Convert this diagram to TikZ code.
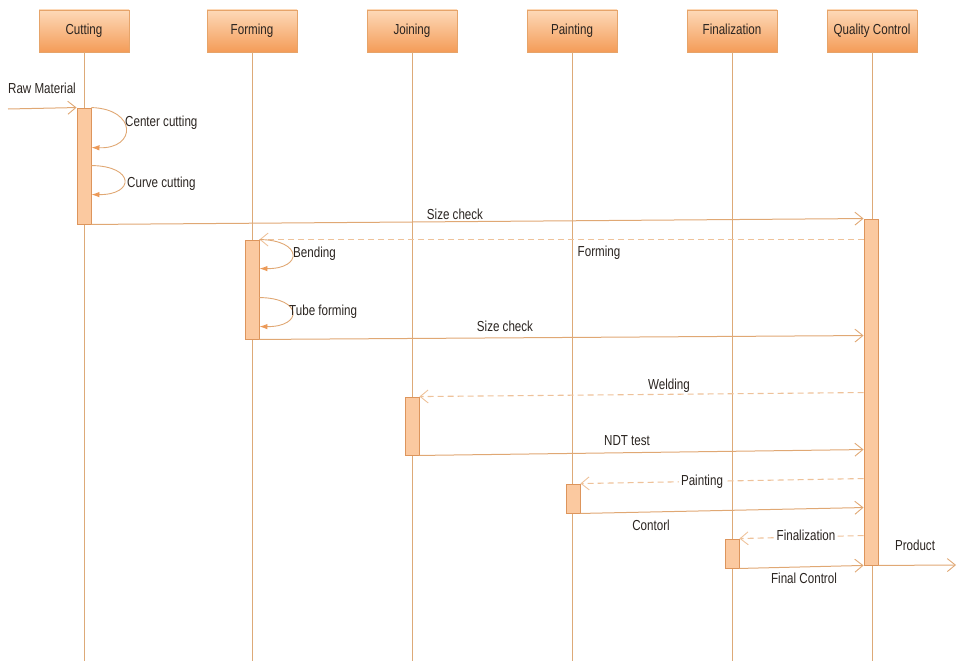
\documentclass[tikz,border=0pt]{standalone}
\usepackage{fontspec}
\setmainfont[FakeStretch=0.8]{Liberation Sans}
\usetikzlibrary{arrows.meta}
\definecolor{hdTop}{HTML}{FDD9B8}
\definecolor{hdBot}{HTML}{F49C58}
\definecolor{hdLine}{HTML}{E6A46A}
\definecolor{lifeC}{HTML}{DDAA78}
\definecolor{actFill}{HTML}{FBC9A0}
\definecolor{actLine}{HTML}{DD955C}
\definecolor{msgC}{HTML}{E0A874}
\definecolor{retC}{HTML}{EEC29A}
\definecolor{selfTip}{HTML}{EC9A58}
\definecolor{txtC}{HTML}{2A2420}
\tikzset{
  header/.style={draw=hdLine, top color=hdTop, bottom color=hdBot,
    minimum width=90pt, minimum height=42pt, inner sep=0pt,
    text height=10.5pt, text depth=3pt,
    font=\fontsize{14.5}{16}\selectfont, text=txtC},
  lifeline/.style={draw=lifeC, line width=0.9pt},
  act/.style={draw=actLine, fill=actFill, line width=0.9pt,
    minimum width=14pt, inner sep=0pt},
  msg/.style={draw=msgC, line width=1pt,
    -{Straight Barb[length=8pt,width=13pt,line width=0.9pt]}},
  ret/.style={draw=retC, line width=1.1pt, dash pattern=on 6pt off 4pt,
    -{Straight Barb[length=8pt,width=13pt,line width=0.9pt]}},
  selfcall/.style={draw=msgC, line width=0.9pt,
    -{Latex[length=8pt,width=5.5pt,color=selfTip,fill=selfTip]}},
  lbl/.style={font=\fontsize{14.5}{16}\selectfont, text=txtC, inner sep=1pt,
    text height=10.5pt, text depth=3pt, yshift=-2pt},
  lblbg/.style={lbl, fill=white, inner sep=2pt}
}
\begin{document}
\begin{tikzpicture}[x=1pt,y=-1pt]
\useasboundingbox (0,0) rectangle (957,661);

% lifeline heads
\node[header] (hCut)  at (84,31)  {Cutting};
\node[header] (hForm) at (252,31) {Forming};
\node[header] (hJoin) at (412,31) {Joining};
\node[header] (hPaint) at (572,31) {Painting};
\node[header] (hFin)  at (732,31) {Finalization};
\node[header] (hQC)   at (872,31) {Quality Control};

% lifeline ends
\coordinate (eCut)   at (84,661);
\coordinate (eForm)  at (252,661);
\coordinate (eJoin)  at (412,661);
\coordinate (ePaint) at (572,661);
\coordinate (eFin)   at (732,661);
\coordinate (eQC)    at (872,661);
\foreach \h/\e in {hCut/eCut,hForm/eForm,hJoin/eJoin,hPaint/ePaint,hFin/eFin,hQC/eQC}
  \draw[lifeline] (\h.south) -- (\e);

% activation bars
\node[act, minimum height=116pt] (aCut)   at (84,166)   {};
\node[act, minimum height=99pt]  (aForm)  at (252,289.5) {};
\node[act, minimum height=58pt]  (aJoin)  at (412,426)  {};
\node[act, minimum height=29pt]  (aPaint) at (573,498.5) {};
\node[act, minimum height=29pt]  (aFin)   at (732,553.5) {};
\node[act, minimum height=346pt] (aQC)    at (871,392)  {};

% incoming material and outgoing product
\coordinate (raw) at (8,109);
\draw[msg] (raw) -- (aCut.north west);
\node[lbl] (tRaw) at (42,88) {Raw Material};
\coordinate (prod) at (956,565);
\draw[msg] (aQC.south east) -- (prod);
\node[lbl] (tProd) at (915,545) {Product};

% cutting
\draw[selfcall] (aCut.north east) .. controls (137,109) and (137,149) .. ([yshift=-40pt]aCut.north east);
\node[lbl, anchor=west] (tCenter) at (124,121) {Center cutting};
\draw[selfcall] ([yshift=-58pt]aCut.north east) .. controls (135,166) and (135,195) .. ([yshift=-87pt]aCut.north east);
\node[lbl, anchor=west] (tCurve) at (126,182) {Curve cutting};
\draw[msg] (aCut.south east) -- (aQC.north west);
\node[lbl] (tSize1) at (455,214) {Size check};

% forming
\draw[ret] ([yshift=-21pt]aQC.north west) -- (aForm.north east);
\node[lbl] (tForm) at (599,251) {Forming};
\draw[selfcall] (aForm.north east) .. controls (303,240) and (303,269) .. ([yshift=-29pt]aForm.north east);
\node[lbl, anchor=west] (tBend) at (292,252) {Bending};
\draw[selfcall] ([yshift=-58pt]aForm.north east) .. controls (303,298) and (303,327) .. ([yshift=-87pt]aForm.north east);
\node[lbl, anchor=west] (tTube) at (288,310) {Tube forming};
\draw[msg] (aForm.south east) -- ([yshift=-117pt]aQC.north west);
\node[lbl] (tSize2) at (505,326) {Size check};

% joining
\draw[ret] ([yshift=-174pt]aQC.north west) -- (aJoin.north east);
\node[lbl] (tWeld) at (669,384) {Welding};
\draw[msg] (aJoin.south east) -- ([yshift=-231pt]aQC.north west);
\node[lbl] (tNDT) at (627,440) {NDT test};

% painting
\draw[ret] ([yshift=-260pt]aQC.north west) -- (aPaint.north east);
\node[lblbg] (tPaint) at (702,480) {Painting};
\draw[msg] (aPaint.south east) -- ([yshift=-289pt]aQC.north west);
\node[lbl] (tContr) at (651,525) {Contorl};

% finalization
\draw[ret] ([yshift=-317pt]aQC.north west) -- (aFin.north east);
\node[lblbg] (tFin) at (806,535) {Finalization};
\draw[msg] (aFin.south east) -- (aQC.south west);
\node[lbl] (tFC) at (804,578) {Final Control};
\end{tikzpicture}
\end{document}
